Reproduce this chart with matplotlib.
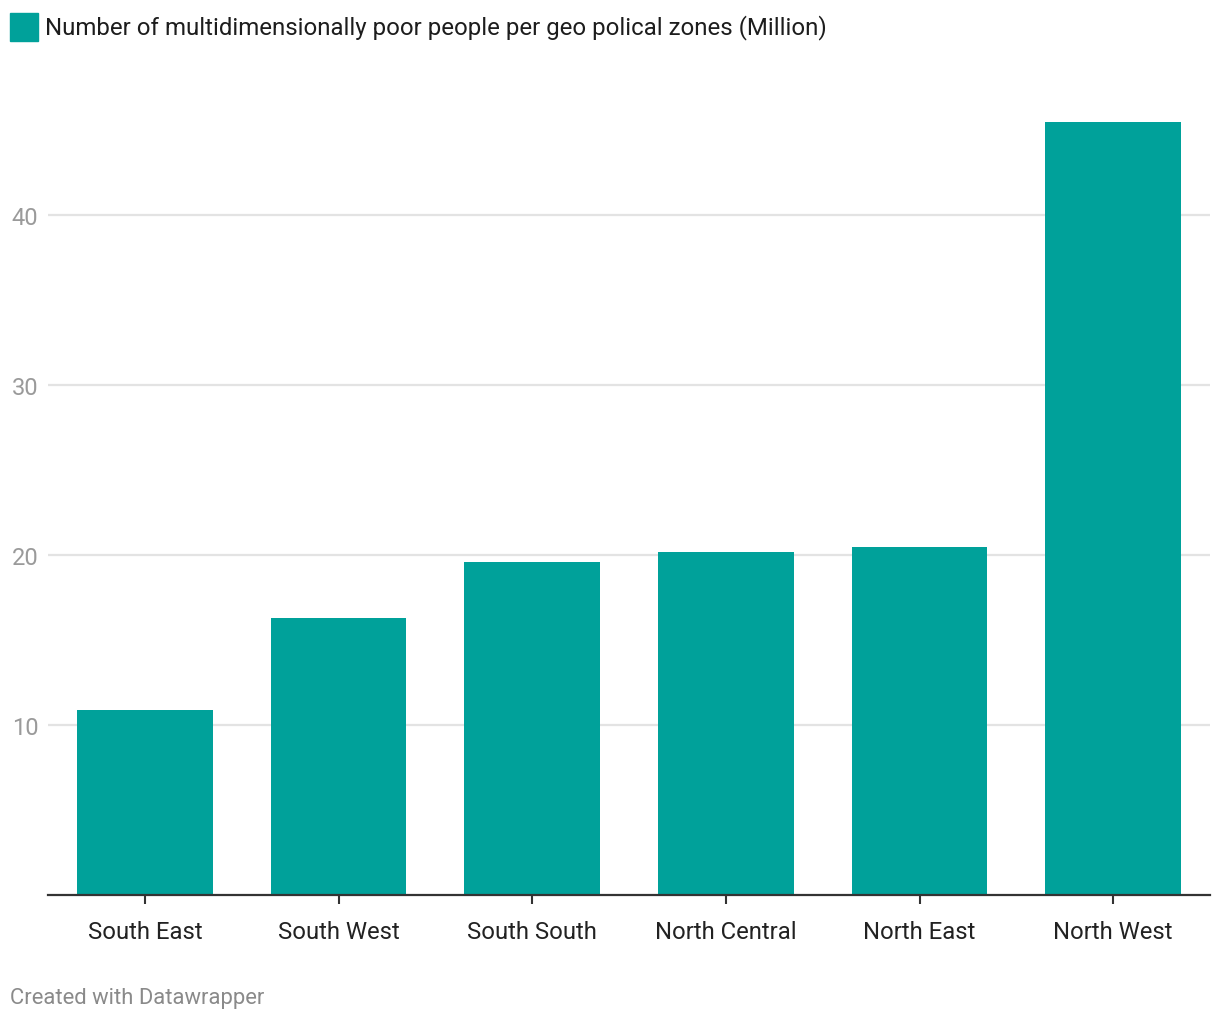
import matplotlib.pyplot as plt
from matplotlib.patches import Rectangle

# Data (millions)
zones = ['South East', 'South West', 'South South', 'North Central', 'North East', 'North West']
poor_people = [10.9, 16.3, 19.6, 20.2, 20.5, 45.5]
y_ticks = [10, 20, 30, 40]

bar_color = '#00a19a'
title_text = 'Number of multidimensionally poor people per geo polical zones (Million)'

plt.rcParams['font.family'] = ['Roboto', 'DejaVu Sans']

W, H = 1220, 1020
fig = plt.figure(figsize=(W / 100, H / 100), dpi=100)

# axes spans from x=48 to x=1210, baseline at y=896
ax = fig.add_axes([48 / W, 1 - 896 / H, 1162 / W, 850 / H])
ax.bar(range(len(zones)), poor_people, width=0.70, color=bar_color, zorder=2)

ax.set_xlim(-0.5, len(zones) - 0.5)
ax.set_ylim(0, 50)

for s in ax.spines.values():
    s.set_visible(False)
ax.axhline(0, color='#333333', lw=1.6, zorder=3, clip_on=False)

ax.set_yticks(y_ticks)
ax.set_yticklabels([str(t) for t in y_ticks])
ax.tick_params(axis='y', length=0, pad=7, labelsize=17, labelcolor='#9a9a9a')
ax.yaxis.grid(True, color='#e3e3e3', lw=1.6, zorder=0)

ax.set_xticks(range(len(zones)))
ax.set_xticklabels(zones)
ax.tick_params(axis='x', length=6.5, width=1.5, color='#333333', pad=11.5,
               labelsize=17.2, labelcolor='#222222')

# legend / title
fig.patches.append(Rectangle((10 / W, 1 - 42 / H), 28 / W, 28 / H,
                             transform=fig.transFigure, color=bar_color))
fig.text(45 / W, 1 - 34 / H, title_text, fontsize=17.3, color='#1d1d1d',
         va='baseline', ha='left')

fig.text(10 / W, 1 - 1004 / H, 'Created with Datawrapper', fontsize=15.8,
         color='#8a8a8a', va='baseline', ha='left')

fig.savefig('out.png', dpi=100, facecolor='white')
